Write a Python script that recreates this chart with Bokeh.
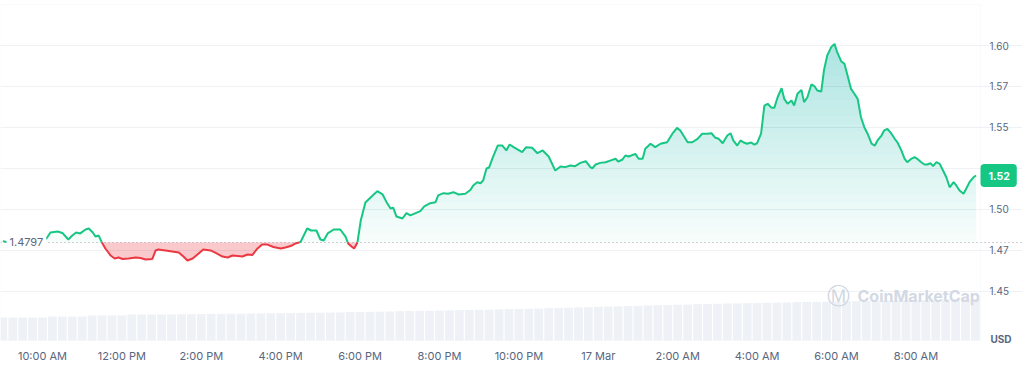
import numpy as np
from bokeh.plotting import figure
from bokeh.models import Range1d, FixedTicker, Label, Grid, BoxAnnotation
from bokeh.embed import file_html
from bokeh.resources import INLINE

GREEN = "#16c784"
RED = "#ea3943"

# ---------------- data ----------------
times = [
    "09:00", "09:06", "09:15", "09:25", "09:35", "09:45", "09:55", "10:06", "10:12", "10:23",
    "10:30", "10:39", "10:45", "10:51", "10:57", "11:05", "11:10", "11:16", "11:20", "11:25",
    "11:29", "11:35", "11:43", "11:49", "11:55", "12:01", "12:10", "12:21", "12:28", "12:36",
    "12:46", "12:51", "12:55", "13:06", "13:16", "13:26", "13:33", "13:39", "13:47", "13:56",
    "14:03", "14:14", "14:21", "14:32", "14:40", "14:47", "14:55", "15:02", "15:10", "15:17",
    "15:25", "15:32", "15:40", "15:49", "16:00", "16:07", "16:15", "16:22", "16:30", "16:40",
    "16:46", "16:54", "17:00", "17:05", "17:11", "17:20", "17:30", "17:38", "17:42", "17:47",
    "17:51", "17:56", "18:01", "18:08", "18:19", "18:26", "18:34", "18:40", "18:46", "18:50",
    "18:55", "19:04", "19:10", "19:16", "19:24", "19:31", "19:37", "19:46", "19:54", "19:58",
    "20:06", "20:13", "20:21", "20:29", "20:39", "20:47", "20:51", "20:57", "21:02", "21:06",
    "21:11", "21:15", "21:20", "21:28", "21:35", "21:41", "21:46", "21:52", "22:05", "22:11",
    "22:20", "22:28", "22:36", "22:45", "22:55", "23:03", "23:10", "23:18", "23:25", "23:33",
    "23:41", "23:48", "23:51", "23:56", "00:03", "00:11", "00:18", "00:26", "00:30", "00:36",
    "00:41", "00:46", "00:56", "01:01", "01:07", "01:11", "01:19", "01:26", "01:34", "01:44",
    "01:52", "01:59", "02:04", "02:15", "02:22", "02:30", "02:37", "02:45", "02:51", "02:57",
    "03:02", "03:08", "03:15", "03:20", "03:24", "03:30", "03:35", "03:39", "03:45", "03:51",
    "03:56", "04:00", "04:06", "04:11", "04:16", "04:22", "04:26", "04:31", "04:37", "04:41",
    "04:46", "04:52", "04:56", "05:01", "05:07", "05:11", "05:16", "05:22", "05:27", "05:31",
    "05:37", "05:41", "05:46", "05:52", "05:57", "06:01", "06:07", "06:12", "06:16", "06:22",
    "06:27", "06:32", "06:37", "06:42", "06:47", "06:53", "06:58", "07:02", "07:08", "07:12",
    "07:17", "07:23", "07:28", "07:32", "07:38", "07:43", "07:47", "07:53", "07:58", "08:02",
    "08:08", "08:13", "08:17", "08:22", "08:26", "08:31", "08:36", "08:41", "08:46", "08:51",
    "08:57", "09:01", "09:06", "09:12", "09:16", "09:21", "09:27", "09:31",
]
prices = [
    1.4805, 1.4800, 1.4772, 1.4783, 1.4798, 1.4810, 1.4818, 1.4821, 1.4858, 1.4864,
    1.4855, 1.4815, 1.4839, 1.4858, 1.4852, 1.4876, 1.4882, 1.4858, 1.4833, 1.4839,
    1.4803, 1.4760, 1.4717, 1.4699, 1.4705, 1.4696, 1.4699, 1.4705, 1.4702, 1.4693,
    1.4696, 1.4748, 1.4754, 1.4748, 1.4742, 1.4735, 1.4711, 1.4687, 1.4699, 1.4729,
    1.4754, 1.4748, 1.4735, 1.4711, 1.4705, 1.4717, 1.4714, 1.4711, 1.4723, 1.4720,
    1.4760, 1.4784, 1.4784, 1.4769, 1.4760, 1.4766, 1.4775, 1.4790, 1.4800, 1.4882,
    1.4870, 1.4870, 1.4815, 1.4809, 1.4852, 1.4876, 1.4876, 1.4833, 1.4790, 1.4772,
    1.4760, 1.4797, 1.4931, 1.5041, 1.5084, 1.5110, 1.5090, 1.5043, 1.5004, 1.5010,
    1.4955, 1.4943, 1.4976, 1.4962, 1.4976, 1.4988, 1.5017, 1.5037, 1.5043, 1.5084,
    1.5098, 1.5094, 1.5104, 1.5090, 1.5094, 1.5119, 1.5145, 1.5165, 1.5159, 1.5175,
    1.5249, 1.5255, 1.5310, 1.5389, 1.5389, 1.5359, 1.5395, 1.5379, 1.5348, 1.5379,
    1.5375, 1.5342, 1.5359, 1.5322, 1.5236, 1.5261, 1.5257, 1.5267, 1.5263, 1.5283,
    1.5293, 1.5257, 1.5250, 1.5273, 1.5283, 1.5287, 1.5297, 1.5308, 1.5291, 1.5302,
    1.5328, 1.5322, 1.5338, 1.5308, 1.5308, 1.5369, 1.5400, 1.5379, 1.5400, 1.5409,
    1.5461, 1.5497, 1.5481, 1.5409, 1.5409, 1.5430, 1.5461, 1.5461, 1.5464, 1.5436,
    1.5430, 1.5403, 1.5450, 1.5464, 1.5420, 1.5389, 1.5420, 1.5409, 1.5400, 1.5407,
    1.5395, 1.5403, 1.5461, 1.5633, 1.5644, 1.5619, 1.5619, 1.5684, 1.5739, 1.5674,
    1.5644, 1.5664, 1.5633, 1.5705, 1.5729, 1.5654, 1.5684, 1.5762, 1.5750, 1.5725,
    1.5719, 1.5847, 1.5939, 1.5990, 1.6010, 1.5959, 1.5904, 1.5888, 1.5827, 1.5735,
    1.5705, 1.5674, 1.5562, 1.5501, 1.5461, 1.5400, 1.5389, 1.5420, 1.5450, 1.5481,
    1.5491, 1.5461, 1.5430, 1.5409, 1.5359, 1.5308, 1.5287, 1.5308, 1.5318, 1.5308,
    1.5287, 1.5273, 1.5273, 1.5281, 1.5263, 1.5287, 1.5277, 1.5236, 1.5195, 1.5134,
    1.5165, 1.5145, 1.5114, 1.5094, 1.5125, 1.5165, 1.5195, 1.5206,
]
base_price = 1.4797

vol_start_hour = 9.0        # first volume bar at 09:00, one bar per 15 minutes
vol_step_hours = 0.25
volumes_m = [
    115.0, 115.4, 114.8, 115.2, 115.6,
    120.1, 119.8, 120.4, 120.6,
    124.9, 125.3, 125.0, 125.6,
    129.8, 130.2, 130.0, 130.5, 130.3, 130.8, 131.0,
    133.0, 133.4, 133.2, 133.9, 134.1,
    135.2, 135.6, 136.0, 136.3, 136.8,
    138.0, 138.5, 139.1, 139.6, 140.2,
    142.0, 142.8, 143.5, 144.1, 144.9,
    146.5, 147.2, 148.0, 148.6, 149.3,
    151.0, 151.8, 152.5, 153.1, 153.9,
    156.0, 156.9, 157.8, 158.6, 159.5,
    162.0, 163.1, 164.0, 165.2, 166.1,
    168.5, 169.6, 170.8, 171.9, 173.0,
    175.2, 176.4, 177.5, 178.6, 179.8,
    181.5, 182.6, 183.8, 184.9, 185.7,
    187.0, 187.8, 188.6, 189.5, 190.2,
    191.6, 192.5, 193.3, 194.0, 194.8,
    196.0, 196.8, 197.5, 198.2, 199.0,
    200.5, 201.3, 202.0, 202.8, 203.6,
    205.0, 205.8, 206.5, 207.2,
]

x_tick_hours = [10, 12, 14, 16, 18, 20, 22, 24, 26, 28, 30, 32]
x_tick_labels = ["10:00 AM", "12:00 PM", "2:00 PM", "4:00 PM", "6:00 PM", "8:00 PM",
                 "10:00 PM", "17 Mar", "2:00 AM", "4:00 AM", "6:00 AM", "8:00 AM"]
y_ticks = [1.45, 1.475, 1.5, 1.525, 1.55, 1.575, 1.6]
y_tick_labels = ["1.45", "1.47", "1.50", "1.52", "1.55", "1.57", "1.60"]
currency = "USD"


def to_hours(ts):
    out, day, prev = [], 0.0, -1.0
    for s in ts:
        h, m = s.split(":")
        v = int(h) + int(m) / 60.0
        if v < prev:
            day += 24.0
        prev = v
        out.append(v + day)
    return np.array(out)


t = to_hours(times)
pr = np.array(prices)

# insert baseline crossings so the green / red parts meet exactly
xs, ys = [t[0]], [pr[0]]
for i in range(1, len(t)):
    a, b = pr[i - 1] - base_price, pr[i] - base_price
    if a * b < 0:
        f = a / (a - b)
        xs.append(t[i - 1] + f * (t[i] - t[i - 1]))
        ys.append(base_price)
    xs.append(t[i])
    ys.append(pr[i])
xs, ys = np.array(xs), np.array(ys)
up = np.where(ys >= base_price, ys, np.nan)
dn = np.where(ys <= base_price, ys, np.nan)

# ---------------- layout (pixel calibration of the canvas) ----------------
W, H = 1022, 366
PLOT_R, PLOT_T, PLOT_B = 980, 4, 340      # right edge, top and bottom of the chart area (px)
PX_HOUR_10, PX_PER_HOUR = 42.0, 39.7
PY_160, PX_PER_UNIT = 45.0, 1637.0


def px_x(px):
    return 10.0 + (px - PX_HOUR_10) / PX_PER_HOUR


def px_y(py):
    return 1.60 - (py - PY_160) / PX_PER_UNIT


X0, X1 = px_x(0), px_x(W)
Y0, Y1 = px_y(H), px_y(0)

p = figure(width=W, height=H, x_range=Range1d(X0, X1), y_range=Range1d(Y0, Y1),
           y_axis_location="right", output_backend="svg", toolbar_location=None,
           min_border_left=0, min_border_top=0, min_border_right=0, min_border_bottom=0)
p.outline_line_color = None
p.background_fill_color = "white"
p.border_fill_color = "white"

# volume (own scale: 5 units per pixel, zero at the chart bottom)
p.extra_y_ranges = {"vol": Range1d(-5.0 * (H - PLOT_B), 5.0 * PLOT_B)}
vol_x = vol_start_hour + vol_step_hours * np.arange(len(volumes_m))
p.vbar(x=vol_x, top=volumes_m, bottom=0, width=vol_step_hours * 0.88, y_range_name="vol",
       fill_color="#eef1f5", line_color=None)

# green gradient fill (stacked translucent layers)
p.varea(x=xs, y1=base_price, y2=np.maximum(ys, base_price), fill_color=GREEN, fill_alpha=0.035)
for L in np.linspace(base_price, 1.61, 28)[1:]:
    p.varea(x=xs, y1=L, y2=np.maximum(ys, L), fill_color=GREEN, fill_alpha=0.012)

# red fill
p.varea(x=xs, y1=np.minimum(ys, base_price), y2=base_price, fill_color=RED, fill_alpha=0.27)

p.line(xs, up, line_color=GREEN, line_width=2)
p.line(xs, dn, line_color=RED, line_width=2)

# grid lines limited to the chart area
p.xgrid.visible = False
p.ygrid.ticker = FixedTicker(ticks=y_ticks)
p.ygrid.grid_line_color = "#eff1f4"
p.ygrid.bounds = (X0, px_x(PLOT_R))
p.add_layout(Grid(dimension=1, ticker=FixedTicker(ticks=[base_price]),
                  bounds=(X0, px_x(PLOT_R)), grid_line_color="#9aa3b2",
                  grid_line_dash="1 3", grid_line_width=1))
p.add_layout(BoxAnnotation(left=X0, right=px_x(PLOT_R), top=px_y(PLOT_T), bottom=px_y(PLOT_B),
                           fill_alpha=0, line_color="#eceff3", line_width=1))

# axes drawn at the chart-area edges
p.xaxis.ticker = FixedTicker(ticks=x_tick_hours)
p.xaxis.major_label_overrides = dict(zip(x_tick_hours, x_tick_labels))
p.xaxis.fixed_location = px_y(PLOT_B)
p.yaxis.ticker = FixedTicker(ticks=y_ticks)
p.yaxis.major_label_overrides = dict(zip(y_ticks, y_tick_labels))
p.yaxis.fixed_location = px_x(PLOT_R)
for ax in (p.xaxis, p.yaxis):
    ax.axis_line_color = None
    ax.major_tick_line_color = None
    ax.minor_tick_line_color = None
    ax.major_label_text_font = "Inter"
    ax.major_label_text_color = "#58667e"
p.xaxis.major_label_text_font_size = "11px"
p.yaxis.major_label_text_font_size = "10px"
p.xaxis.major_label_standoff = 2
p.yaxis.major_label_standoff = 3

# labels
p.add_layout(Label(x=X0, y=base_price, text=f"{base_price:.4f}", x_offset=6,
                   text_font="Inter", text_font_size="11px", text_color="#58667e",
                   text_baseline="middle", text_align="left",
                   background_fill_color="white", padding=3))
p.add_layout(Label(x=px_x(838), y=px_y(295), text="\u24c2", text_font="DejaVu Sans",
                   text_font_size="23px", text_color="#cfd6e2",
                   text_baseline="middle", text_align="center"))
p.add_layout(Label(x=px_x(857), y=px_y(295), text="CoinMarketCap", text_font="Inter",
                   text_font_size="16px", text_font_style="bold", text_color="#d3d9e4",
                   text_baseline="middle", text_align="left"))
p.add_layout(Label(x=px_x(PLOT_R), y=prices[-1], text=f"{prices[-1]:.2f}",
                   text_font="Inter", text_font_size="10.5px", text_font_style="bold",
                   text_color="white", text_baseline="middle", text_align="left",
                   background_fill_color=GREEN, padding=(8, 7, 8, 7), border_radius=4))
p.add_layout(Label(x=px_x(990), y=px_y(338), text=currency,
                   text_font="Inter", text_font_size="10px", text_font_style="bold",
                   text_color="#58667e", text_baseline="middle", text_align="left"))

open("out.html", "w").write(file_html(p, INLINE))
